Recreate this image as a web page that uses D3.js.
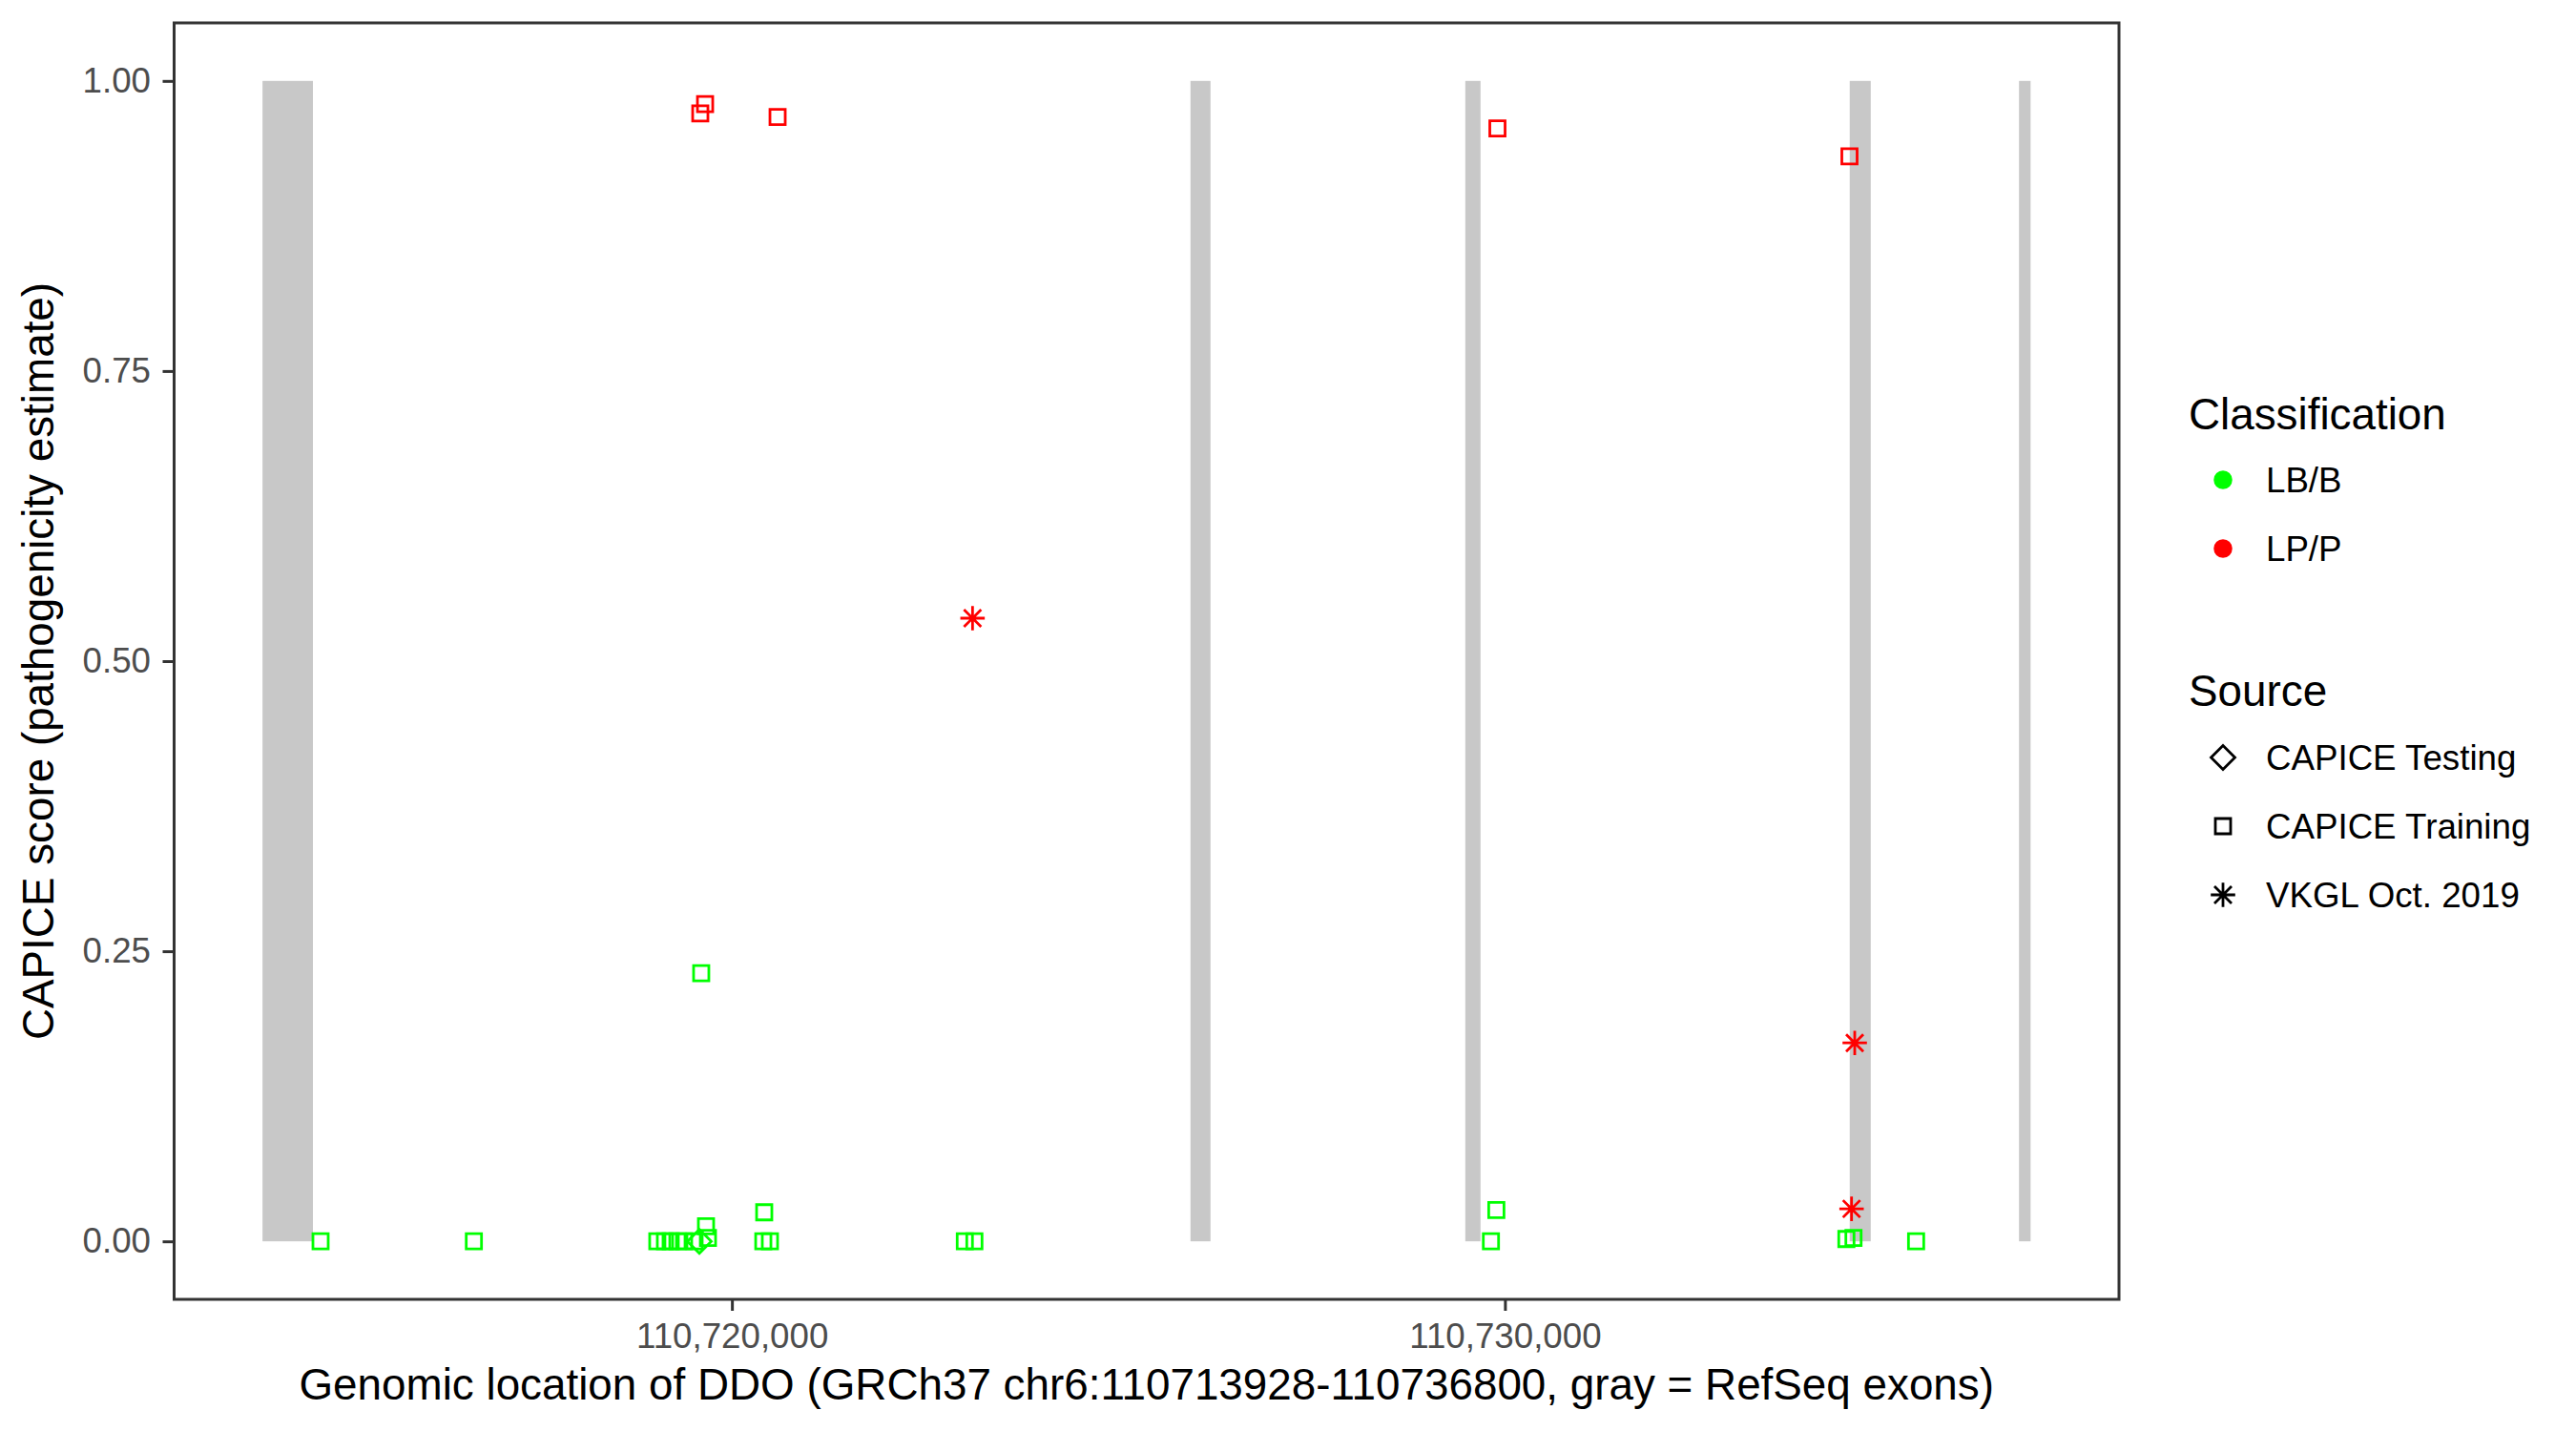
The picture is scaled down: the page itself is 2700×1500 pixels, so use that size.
<!DOCTYPE html>
<html>
<head>
<meta charset="utf-8">
<script src="https://cdn.jsdelivr.net/npm/d3@7"></script>
<style>
body { margin: 0; background: #fff; }
text { font-family: "Liberation Sans", Arial, sans-serif; }
</style>
</head>
<body>
<svg id="chart" width="2700" height="1500"></svg>
<script>

// gene window and RefSeq exons (gray bars)
var geneStart = 110713928, geneEnd = 110736800;
var exonStart = [110713928, 110725932, 110729487, 110734460, 110736650];
var exonEnd   = [110714580, 110726191, 110729684, 110734732, 110736800];

// variants: position, CAPICE score, classification, source
var varPos = [110714679, 110716662, 110719035, 110719134, 110719208, 110719295, 110719381, 110719517,
	110719579, 110719665, 110719690, 110719603, 110720418, 110720406, 110720492, 110723013, 110723137,
	110729819, 110729889, 110734417, 110734509, 110735319,
	110719653, 110719591, 110720591, 110729903, 110734457,
	110723113, 110734525, 110734484];
var varScore = [0, 0, 0, 0, 0, 0, 0, 0,
	0, 0.013, 0.003, 0.231, 0.025, 0, 0, 0, 0,
	0, 0.027, 0.002, 0.003, 0,
	0.980, 0.972, 0.969, 0.959, 0.935,
	0.537, 0.171, 0.028];
var varClass = ["LB/B", "LB/B", "LB/B", "LB/B", "LB/B", "LB/B", "LB/B", "LB/B",
	"LB/B", "LB/B", "LB/B", "LB/B", "LB/B", "LB/B", "LB/B", "LB/B", "LB/B",
	"LB/B", "LB/B", "LB/B", "LB/B", "LB/B",
	"LP/P", "LP/P", "LP/P", "LP/P", "LP/P",
	"LP/P", "LP/P", "LP/P"];
var varSource = ["CAPICE Training", "CAPICE Training", "CAPICE Training", "CAPICE Training", "CAPICE Training", "CAPICE Training", "CAPICE Training", "CAPICE Training",
	"CAPICE Testing", "CAPICE Training", "CAPICE Training", "CAPICE Training", "CAPICE Training", "CAPICE Training", "CAPICE Training", "CAPICE Training", "CAPICE Training",
	"CAPICE Training", "CAPICE Training", "CAPICE Training", "CAPICE Training", "CAPICE Training",
	"CAPICE Training", "CAPICE Training", "CAPICE Training", "CAPICE Training", "CAPICE Training",
	"VKGL Oct. 2019", "VKGL Oct. 2019", "VKGL Oct. 2019"];

var classNames = ["LB/B", "LP/P"];
var classColors = ["#00ff00", "#ff0000"];
var sourceNames = ["CAPICE Testing", "CAPICE Training", "VKGL Oct. 2019"];

var xTicks = [110720000, 110730000];
var yTicks = [0, 0.25, 0.5, 0.75, 1];

//Panel box
var pLeft = 182.5, pRight = 2221, pTop = 24, pBottom = 1362;
var svg = d3.select("#chart");

var pad = 0.05 * (geneEnd - geneStart);
var x = d3.scaleLinear().domain([geneStart - pad, geneEnd + pad]).range([pLeft, pRight]);
var y = d3.scaleLinear().domain([-0.05, 1.05]).range([pBottom, pTop]);
var color = d3.scaleOrdinal().domain(classNames).range(classColors);

//Shapes
function shapePath(src) {
	if (src == "CAPICE Training") return d3.symbol(d3.symbolSquare, 256)();
	if (src == "CAPICE Testing") return "M0,-12.5L12.5,0L0,12.5L-12.5,0Z";
	return "M0,-12.8V12.8M-12.8,0H12.8M-9,-9L9,9M-9,9L9,-9";
}

//Exons
svg.selectAll("rect.exon")
	.data(exonStart)
	.enter().append("rect")
	.attr("class", "exon")
	.attr("x", function(d) { return x(d); })
	.attr("width", function(d, i) { return x(exonEnd[i]) - x(d); })
	.attr("y", y(1))
	.attr("height", y(0) - y(1))
	.style("fill", "#c8c8c8");

//Points
svg.selectAll("path.pt")
	.data(varPos)
	.enter().append("path")
	.attr("class", "pt")
	.attr("transform", function(d, i) { return "translate(" + x(d) + "," + y(varScore[i]) + ")"; })
	.attr("d", function(d, i) { return shapePath(varSource[i]); })
	.style("fill", "none")
	.style("stroke", function(d, i) { return color(varClass[i]); })
	.style("stroke-width", 2.8);

//Border
svg.append("rect")
	.attr("x", pLeft).attr("y", pTop)
	.attr("width", pRight - pLeft).attr("height", pBottom - pTop)
	.style("fill", "none").style("stroke", "#333333").style("stroke-width", 3);

//Axes
var gx = svg.append("g")
	.attr("transform", "translate(0," + pBottom + ")")
	.call(d3.axisBottom(x).tickValues(xTicks).tickFormat(d3.format(",")).tickSize(12).tickPadding(13));
var gy = svg.append("g")
	.attr("transform", "translate(" + pLeft + ",0)")
	.call(d3.axisLeft(y).tickValues(yTicks).tickFormat(d3.format(".2f")).tickSize(12).tickPadding(12.5));
[gx, gy].forEach(function(g) {
	g.select(".domain").remove();
	g.selectAll("line").style("stroke", "#333333").style("stroke-width", 3);
	g.selectAll("text").style("fill", "#4d4d4d").style("font-size", "36.7px")
		.style("font-family", "'Liberation Sans', Arial, sans-serif");
});

//Axis titles
svg.append("text")
	.attr("x", (pLeft + pRight) / 2).attr("y", 1467)
	.style("text-anchor", "middle").style("font-size", "45.8px")
	.text("Genomic location of DDO (GRCh37 chr6:110713928-110736800, gray = RefSeq exons)");
svg.append("text")
	.attr("transform", "translate(56," + (pTop + pBottom) / 2 + ") rotate(-90)")
	.style("text-anchor", "middle").style("font-size", "45.8px")
	.text("CAPICE score (pathogenicity estimate)");

//Legend
var lg = svg.append("g");
lg.append("text").attr("x", 2294).attr("y", 450).style("font-size", "45.8px").text("Classification");
classNames.forEach(function(c, i) {
	var cy = 503 + i * 72;
	lg.append("path")
		.attr("transform", "translate(2330," + cy + ")")
		.attr("d", d3.symbol(d3.symbolCircle, 300)())
		.style("fill", color(c));
	lg.append("text").attr("x", 2375).attr("y", cy + 13).style("font-size", "36.7px").text(c);
});
lg.append("text").attr("x", 2294).attr("y", 740).style("font-size", "45.8px").text("Source");
sourceNames.forEach(function(s, i) {
	var cy = 794 + i * 72;
	lg.append("path")
		.attr("transform", "translate(2330," + cy + ")")
		.attr("d", shapePath(s))
		.style("fill", "none").style("stroke", "#000").style("stroke-width", 2.8);
	lg.append("text").attr("x", 2375).attr("y", cy + 13).style("font-size", "36.7px").text(s);
});

</script>
</body>
</html>
